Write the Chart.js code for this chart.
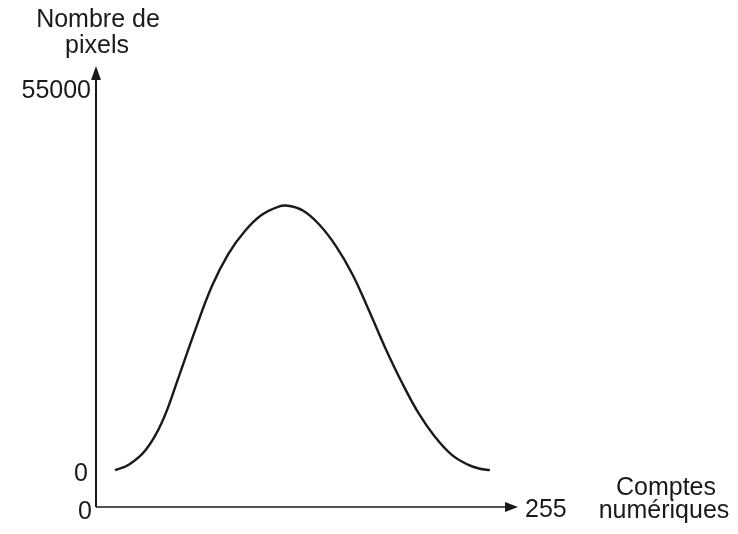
<!DOCTYPE html>
<html>
<head>
<meta charset="utf-8">
<script src="https://cdn.jsdelivr.net/npm/chart.js@4/dist/chart.umd.min.js"></script>
<style>
  html, body { margin: 0; padding: 0; background: #fff; }
  #wrap { width: 738px; height: 534px; }
</style>
</head>
<body>
<div id="wrap"><canvas id="histo" width="738" height="534"></canvas></div>
<script>
// Histogram curve (x = digital count, y = pixel count)
const counts = [11.5, 20, 30, 40, 50, 60, 70, 80, 90, 100, 110, 116,
                125, 135, 145, 155, 165, 175, 185, 195, 205, 215, 225, 232, 238];
const pixels = [0, 800, 2900, 7000, 13500, 20300, 26600, 31300, 34600, 36900, 38100, 38250,
                37550, 35500, 32400, 28300, 23050, 17570, 12600, 8200, 4760, 2200, 750, 200, 0];
const yTicks = [0, 55000];
const xTicks = [0, 255];
const yTitle = ['Nombre de', 'pixels'];
const xTitle = ['Comptes', 'numériques'];

const FONT = '25px "Liberation Sans", Arial, Helvetica, sans-serif';
const INK = '#1a1a1a';

// Draw axes with arrows and the odd label placement of the original figure
const axesPlugin = {
    id: 'axes',
    afterDraw(chart) {
        const ctx = chart.ctx;
        const xs = chart.scales.x;
        const ys = chart.scales.y;
        const x0 = xs.getPixelForValue(xTicks[0]);
        const xEnd = xs.getPixelForValue(xTicks[1]);
        const yBase = ys.bottom;
        const yTop = ys.getPixelForValue(yTicks[1]) - 24;

        ctx.save();
        ctx.strokeStyle = INK;
        ctx.fillStyle = INK;
        ctx.lineWidth = 2;

        // y axis
        ctx.beginPath();
        ctx.moveTo(x0, yBase);
        ctx.lineTo(x0, yTop + 10);
        ctx.stroke();
        ctx.beginPath();
        ctx.moveTo(x0, yTop);
        ctx.lineTo(x0 - 5, yTop + 14);
        ctx.lineTo(x0 + 5, yTop + 14);
        ctx.closePath();
        ctx.fill();

        // x axis
        ctx.lineWidth = 1.6;
        ctx.beginPath();
        ctx.moveTo(x0, yBase);
        ctx.lineTo(xEnd - 10, yBase);
        ctx.stroke();
        ctx.beginPath();
        ctx.moveTo(xEnd, yBase);
        ctx.lineTo(xEnd - 13, yBase - 5);
        ctx.lineTo(xEnd - 13, yBase + 5);
        ctx.closePath();
        ctx.fill();

        ctx.font = FONT;
        ctx.textBaseline = 'middle';

        // y tick labels
        ctx.textAlign = 'right';
        ctx.fillText(String(yTicks[1]), x0 - 5, ys.getPixelForValue(yTicks[1]) + 1);
        ctx.fillText(String(yTicks[0]), x0 - 8, ys.getPixelForValue(yTicks[0]) + 4);

        // x tick labels
        ctx.fillText(String(xTicks[0]), x0 - 4, yBase + 5);
        ctx.textAlign = 'left';
        ctx.fillText(String(xTicks[1]), xEnd + 7, yBase + 3);

        // axis titles
        ctx.textAlign = 'center';
        ctx.fillText(yTitle[0], x0 + 2, 20);
        ctx.fillText(yTitle[1], x0 + 1, 46);
        ctx.fillText(xTitle[0], 666, 488);
        ctx.fillText(xTitle[1], 664, 511);
        ctx.restore();
    }
};

new Chart(document.getElementById('histo'), {
    type: 'line',
    data: {
        datasets: [{
            data: counts.map((c, i) => ({ x: c, y: pixels[i] })),
            borderColor: INK,
            borderWidth: 2.4,
            pointRadius: 0,
            fill: false,
            tension: 0.4
        }]
    },
    options: {
        responsive: false,
        animation: false,
        layout: { padding: { left: 96, right: 220, top: 90, bottom: 27 } },
        plugins: { legend: { display: false }, tooltip: { enabled: false } },
        scales: {
            x: { type: 'linear', min: 0, max: 255, display: false },
            y: { type: 'linear', min: -5340, max: 55000, display: false }
        }
    },
    plugins: [axesPlugin]
});
</script>
</body>
</html>
